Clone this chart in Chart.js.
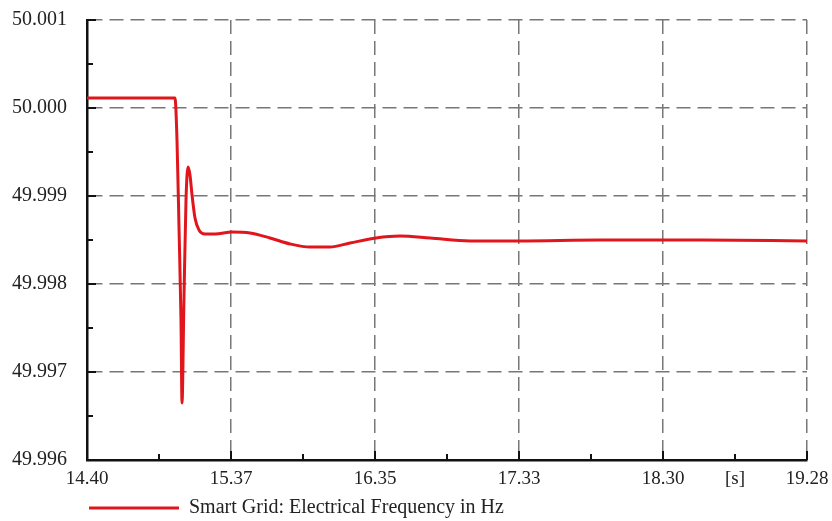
<!DOCTYPE html>
<html>
<head>
<meta charset="utf-8">
<script src="https://cdn.jsdelivr.net/npm/chart.js@4.4.0/dist/chart.umd.min.js"></script>
<style>
  html, body { margin: 0; padding: 0; background: #fff; }
</style>
</head>
<body>
<canvas id="freqChart" width="832" height="521"></canvas>
<script>

const timeSec = [14.400, 14.996, 15.010, 15.024, 15.037, 15.044, 15.057, 15.071, 15.085, 15.098,
  15.112, 15.132, 15.159, 15.200, 15.268, 15.383, 15.505, 15.640, 15.776, 15.911,
  16.047, 16.183, 16.359, 16.521, 16.725, 16.996, 17.335, 17.877, 18.555, 19.280];
const freqHz = [50.000114, 50.000114, 49.999636, 49.998614, 49.997591, 49.996648, 49.997818, 49.998955, 49.999330, 49.999239,
  49.999011, 49.998750, 49.998614, 49.998568, 49.998568, 49.998591, 49.998580, 49.998523, 49.998455, 49.998420,
  49.998420, 49.998466, 49.998523, 49.998545, 49.998523, 49.998489, 49.998489, 49.998500, 49.998500, 49.998489];

const xTickLabels = ['14.40', '', '15.37', '', '16.35', '', '17.33', '', '18.30', '[s]', '19.28'];
const yTickLabels = ['49.996', '', '49.997', '', '49.998', '', '49.999', '', '50.000', '', '50.001'];
const seriesName = 'Smart Grid: Electrical Frequency in Hz';

const xMin = 14.40, xMax = 19.28;
const yMin = 49.996, yMax = 50.001;

/*............................styles.............................*/

const lineRed = '#e0161c';
const gridGrey = '#777777';
const serif = '"Liberation Serif", "DejaVu Serif", serif';

// inward tick marks on the two solid axes
const inwardTicks = {
  id: 'inwardTicks',
  afterDraw(chart) {
    const {ctx, chartArea, scales} = chart;
    ctx.save();
    ctx.strokeStyle = '#111';
    ctx.lineWidth = 2;
    scales.x.ticks.forEach((t, i) => {
      const px = Math.round(scales.x.getPixelForValue(t.value));
      const len = i % 2 === 0 ? 9 : 6;
      ctx.beginPath();
      ctx.moveTo(px, chartArea.bottom);
      ctx.lineTo(px, chartArea.bottom - len);
      ctx.stroke();
    });
    scales.y.ticks.forEach((t, i) => {
      const py = Math.round(scales.y.getPixelForValue(t.value));
      const len = i % 2 === 0 ? 9 : 6;
      ctx.beginPath();
      ctx.moveTo(chartArea.left, py);
      ctx.lineTo(chartArea.left + len, py);
      ctx.stroke();
    });
    ctx.restore();
  }
};

const data = {
  datasets: [{
    label: seriesName,
    data: timeSec.map((t, i) => ({x: t, y: freqHz[i]})),
    borderColor: lineRed,
    backgroundColor: lineRed,
    borderWidth: 3,
    pointRadius: 0,
    cubicInterpolationMode: 'monotone',
    pointStyle: 'line'
  }]
};

const config = {
  type: 'line',
  data: data,
  options: {
    responsive: false,
    animation: false,
    layout: {
      padding: {left: 12, right: 17, top: 20, bottom: -7}
    },
    scales: {
      x: {
        type: 'linear',
        min: xMin,
        max: xMax,
        afterBuildTicks: (scale) => {
          const step = (xMax - xMin) / (xTickLabels.length - 1);
          scale.ticks = xTickLabels.map((l, i) => ({value: xMin + i * step}));
        },
        afterFit: (scale) => {
          scale.height = 36;
          scale.paddingRight = 25;
        },
        grid: {
          drawTicks: false,
          lineWidth: 1.5,
          color: (c) => c.index % 2 === 0 ? gridGrey : 'rgba(0,0,0,0)'
        },
        border: {display: true, color: '#111', width: 2.5, dash: [14, 7]},
        ticks: {
          padding: 8,
          maxRotation: 0,
          autoSkip: false,
          color: '#222',
          font: {family: serif, size: 19},
          callback: (v, i) => xTickLabels[i]
        }
      },
      y: {
        min: yMin,
        max: yMax,
        afterBuildTicks: (scale) => {
          const step = (yMax - yMin) / (yTickLabels.length - 1);
          scale.ticks = yTickLabels.map((l, i) => ({value: yMin + i * step}));
        },
        afterFit: (scale) => { scale.width = 75; },
        grid: {
          drawTicks: false,
          lineWidth: 1.5,
          color: (c) => c.index % 2 === 0 ? gridGrey : 'rgba(0,0,0,0)'
        },
        border: {display: true, color: '#111', width: 2.5, dash: [14, 7]},
        ticks: {
          padding: 0,
          crossAlign: 'far',
          autoSkip: false,
          color: '#222',
          font: {family: serif, size: 20},
          callback: (v, i) => yTickLabels[i]
        }
      }
    },
    plugins: {
      legend: {
        position: 'bottom',
        align: 'start',
        fullSize: false,
        labels: {
          usePointStyle: true,
          pointStyle: 'line',
          pointStyleWidth: 90,
          padding: 2,
          color: '#222',
          font: {family: serif, size: 20}
        }
      },
      tooltip: {enabled: false}
    }
  },
  plugins: [inwardTicks]
};

const ctx = document.getElementById('freqChart').getContext('2d');
const freqChart = new Chart(ctx, config);
</script>
</body>
</html>
